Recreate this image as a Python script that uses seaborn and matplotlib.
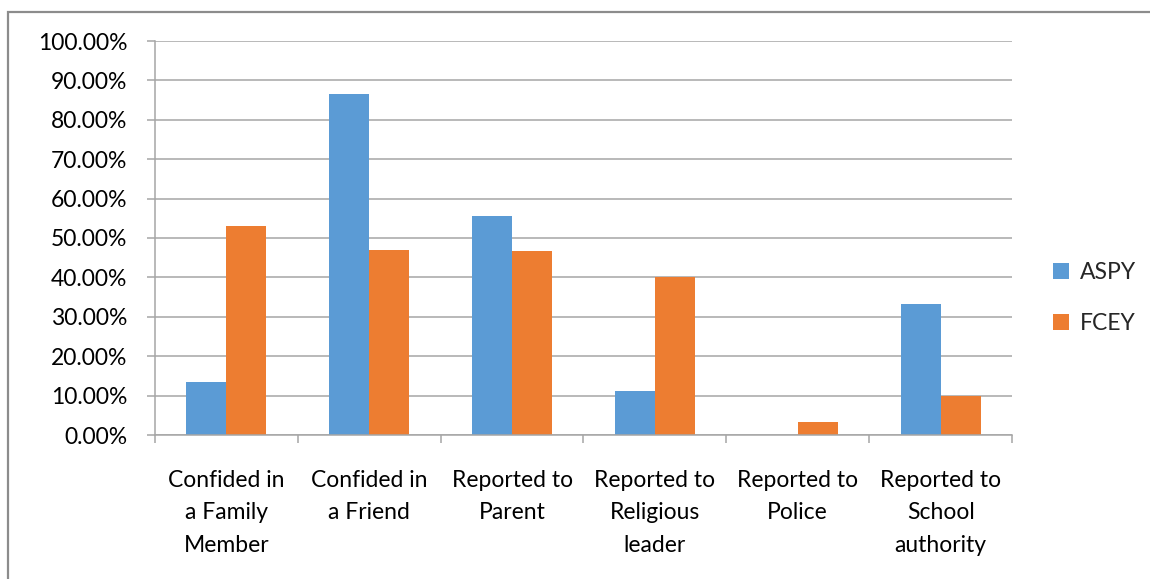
import matplotlib
matplotlib.use("Agg")
import matplotlib.pyplot as plt
from matplotlib.patches import Patch, Rectangle
from matplotlib.ticker import FixedLocator, FuncFormatter
import numpy as np
import pandas as pd
import seaborn as sns

categories = [
    "Confided in\na Family\nMember",
    "Confided in\na Friend",
    "Reported to\nParent",
    "Reported to\nReligious\nleader",
    "Reported to\nPolice",
    "Reported to\nSchool\nauthority",
]
series_names = ["ASPY", "FCEY"]
aspy = [13.33, 86.67, 55.56, 11.11, 0.0, 33.33]
fcey = [52.94, 47.06, 46.67, 40.0, 3.33, 10.0]
colors = ["#5B9BD5", "#ED7D31"]

df = pd.DataFrame({
    "category": categories * 2,
    "series": [series_names[0]] * len(categories) + [series_names[1]] * len(categories),
    "value": aspy + fcey,
})

sns.set_theme(style="white")
plt.rcParams["font.family"] = ["Lato", "DejaVu Sans"]

W, H = 1150, 579
fig = plt.figure(figsize=(W / 100, H / 100), dpi=100)
ax = fig.add_axes([155 / W, 1 - 435 / H, (1012 - 155) / W, (435 - 41) / H])

sns.barplot(data=df, x="category", y="value", hue="series",
            palette=colors, width=0.56, saturation=1, linewidth=0,
            ax=ax, legend=False, errorbar=None)

grid_c = "#a6a6a6"
ax.set_ylim(0, 100)
ax.set_xlim(-0.5, len(categories) - 0.5)
ax.set_yticks(np.arange(0, 101, 10))
ax.yaxis.set_major_formatter(FuncFormatter(lambda v, p: f"{v:.2f}%"))
ax.yaxis.grid(True, color=grid_c, linewidth=1.1)
ax.set_axisbelow(True)
ax.set_xlabel("")
ax.set_ylabel("")

for s in ["top", "right"]:
    ax.spines[s].set_visible(False)
for s in ["left", "bottom"]:
    ax.spines[s].set_color(grid_c)
    ax.spines[s].set_linewidth(1.1)

ax.tick_params(axis="y", which="major", left=True, length=6, width=1.1,
               color=grid_c, pad=14, labelsize=16.5, labelcolor="#000000")
ax.tick_params(axis="x", which="major", bottom=False, pad=19,
               labelsize=16.5, labelcolor="#000000")
ax.xaxis.set_minor_locator(FixedLocator(np.arange(-0.5, len(categories), 1.0)))
ax.tick_params(axis="x", which="minor", bottom=True, length=6, width=1.1,
               color=grid_c)
for lbl in ax.get_xticklabels():
    lbl.set_linespacing(1.68)

handles = [Patch(facecolor=c, edgecolor="none") for c in colors]
ax.legend(handles, series_names, loc="center left",
          bbox_to_anchor=(1032 / W, 1 - 298 / H), bbox_transform=fig.transFigure,
          frameon=False, fontsize=16.5, handlelength=0.7, handleheight=0.7,
          handletextpad=0.5, labelspacing=1.3)

# outer chart border (left and top edges visible)
fig.patches.append(Rectangle((8 / W, -0.05), 1.1, 1 - 12 / H + 0.05,
                             transform=fig.transFigure, fill=False,
                             edgecolor="#8c8c8c", linewidth=1.6))

fig.savefig("out.png", dpi=100)
